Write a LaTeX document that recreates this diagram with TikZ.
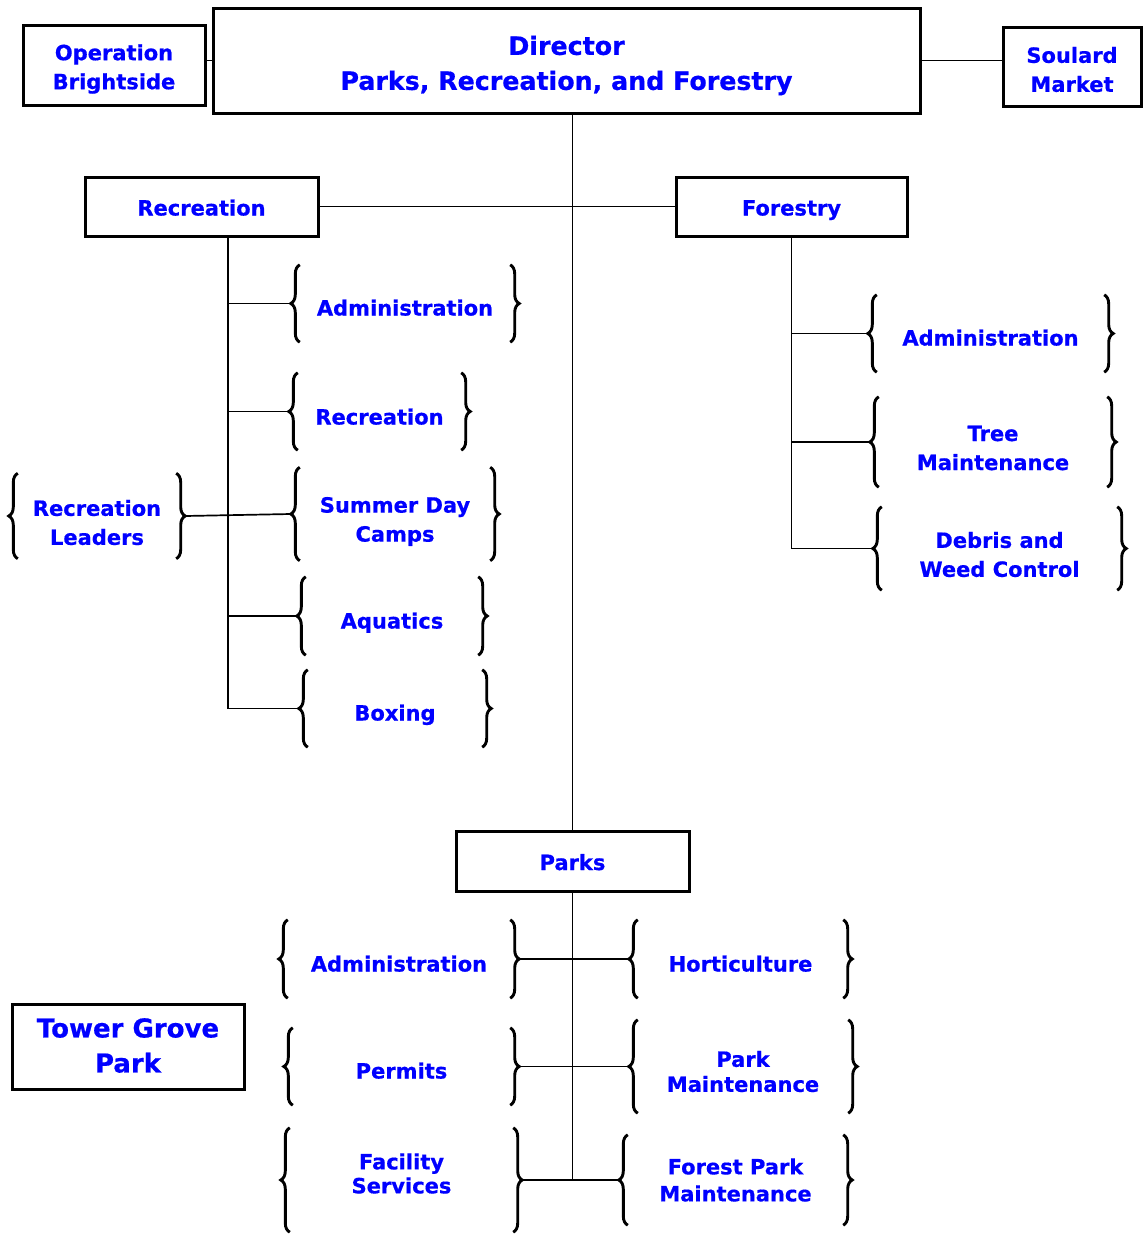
\documentclass[tikz,border=0pt]{standalone}
\usepackage{fontspec}
\setmainfont{DejaVu Sans}[BoldFeatures={FakeBold=0.6}]
\usetikzlibrary{decorations.pathreplacing}
\definecolor{txtblue}{RGB}{0,0,255}
\tikzset{
  basefont/.style={font=\bfseries\fontsize{21}{29}\selectfont},
  box/.style={draw, line width=3pt, inner sep=0pt},
  txt/.style={inner sep=0pt, basefont, text=txtblue, align=center},
  oneline/.style={text height=19pt, text depth=1pt},
  frame/.style={inner sep=0pt},
  bracestyle/.style={line width=2.9pt, decorate, decoration={brace, amplitude=9pt, aspect=0.5}},
  conn/.style={line width=1.7pt},
}
% box: name, cx, cy, w, h, down-shift of text, text options, text
\newcommand\tbox[8]{%
  \node[box, minimum width=#4pt, minimum height=#5pt] (#1) at (#2,#3) {};
  \node[txt, #7] (#1-t) at ([yshift=-#6pt]#1.center) {#8};
}
% braced item: name, cx, cy, w, h, down-shift of text, text options, text
\newcommand\brnode[8]{%
  \node[frame, minimum width=#4pt, minimum height=#5pt] (#1) at (#2,#3) {};
  \node[txt, #7] (#1-t) at ([yshift=-#6pt]#1.center) {#8};
  \draw[bracestyle] (#1.south west) -- (#1.north west);
  \draw[bracestyle] (#1.north east) -- (#1.south east);
  \coordinate (#1-l) at ([xshift=-9pt]#1.west);
  \coordinate (#1-r) at ([xshift=9pt]#1.east);
}
\begin{document}
\begin{tikzpicture}[x=1pt,y=-1pt]
\fill[white] (0,0) rectangle (1143,1237);
\useasboundingbox (0,0) rectangle (1143,1237);

% boxes
\tbox{ob}{114}{65}{182}{80}{4}{}{Operation\\Brightside}
\tbox{dir}{566.5}{60.5}{707}{105}{5}{font=\bfseries\fontsize{25.3}{35}\selectfont}{Director\\Parks, Recreation, and Forestry}
\tbox{sm}{1072}{66.5}{138}{79}{3}{}{Soulard\\Market}
\tbox{rec}{201.5}{206.5}{233}{59}{0}{oneline}{Recreation}
\tbox{for}{791.5}{206.5}{231}{59}{0}{oneline}{Forestry}
\tbox{parks}{572.5}{861}{233}{60}{0}{oneline}{Parks}
\tbox{tgp}{128}{1046.5}{232}{85}{-1}{font=\bfseries\fontsize{26}{35}\selectfont}{Tower Grove\\Park}

% recreation items
\brnode{rA}{405}{303.5}{210}{77}{3}{oneline}{Administration}
\brnode{rR}{379.5}{411.5}{163}{77}{4}{oneline}{Recreation}
\brnode{rS}{395}{514}{190}{93}{7.5}{}{Summer Day\\Camps}
\brnode{rQ}{392}{616}{172}{78}{3.5}{oneline}{Aquatics}
\brnode{rB}{395}{708.5}{174}{77}{3}{oneline}{Boxing}
\brnode{rL}{97}{516}{158}{85}{6.5}{}{Recreation\\Leaders}

% forestry items
\brnode{fA}{990.5}{333.5}{227}{77}{3}{oneline}{Administration}
\brnode{fT}{993}{442}{228}{90}{6}{}{Tree\\Maintenance}
\brnode{fD}{999.5}{548.5}{235}{83}{6}{}{Debris and\\Weed Control}

% parks items
\brnode{pA}{399}{959}{222}{78}{3.5}{oneline}{Administration}
\brnode{pP}{401.5}{1066.5}{217}{77}{3}{oneline}{Permits}
\brnode{pF}{401.5}{1180}{223}{104}{-6.5}{font=\bfseries\fontsize{21}{24}\selectfont}{Facility\\Services}
\brnode{pH}{740.5}{959}{205}{78}{3.5}{oneline}{Horticulture}
\brnode{pM}{743}{1066.5}{210}{93}{5}{font=\bfseries\fontsize{21}{25}\selectfont}{Park\\Maintenance}
\brnode{pFP}{735.5}{1180}{215}{90}{0}{font=\bfseries\fontsize{21}{27}\selectfont}{Forest Park\\Maintenance}

% connectors
\draw[conn] (dir.west) -- (dir.west -| ob.east);
\draw[conn] (dir.east) -- (dir.east -| sm.west);
\draw[conn] (parks.north |- dir.south) -- (parks.north);
\draw[conn] (rec.east) -- (for.west);

\coordinate (rv) at ([xshift=26.5pt]rec.south);
\draw[conn] (rv) |- (rB-l);
\draw[conn] (rA-l) -- (rA-l -| rv);
\draw[conn] (rR-l) -- (rR-l -| rv);
\draw[conn] (rQ-l) -- (rQ-l -| rv);
\draw[conn] (rL-r) -- (rS-l);

\draw[conn] (for.south) |- (fD-l);
\draw[conn] (fA-l) -- (fA-l -| for.south);
\draw[conn] (fT-l) -- (fT-l -| for.south);

\draw[conn] (parks.south) -- (parks.south |- pF-r);
\draw[conn] (pA-r) -- (pH-l);
\draw[conn] (pP-r) -- (pM-l);
\draw[conn] (pF-r) -- (pFP-l);
\end{tikzpicture}
\end{document}
